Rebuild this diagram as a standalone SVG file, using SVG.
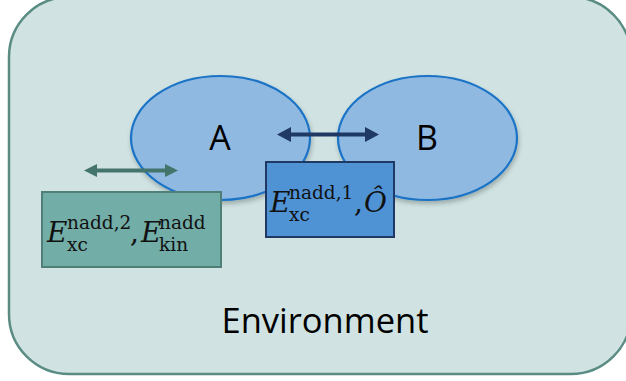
<svg xmlns="http://www.w3.org/2000/svg" width="626" height="381" viewBox="0 0 626 381">
  <style>
    .env { fill: #D0E3E2; stroke: #5A8C84; stroke-width: 2.5; }
    .region { fill: #8FB9E1; stroke: #1A73C6; stroke-width: 2.2; }
    .label { font-family: "Open Sans", "Liberation Sans", sans-serif; fill: #000; }
    .math { font-family: "DejaVu Serif", "Liberation Serif", serif; fill: #111; }
    .it { font-style: italic; }
    .idx { font-size: 18.5px; }
  </style>
  <defs>
    <filter id="soft" x="-20%" y="-20%" width="140%" height="150%">
      <feGaussianBlur in="SourceAlpha" stdDeviation="2.5"/>
      <feOffset dx="1" dy="3" result="b"/>
      <feComponentTransfer><feFuncA type="linear" slope="0.25"/></feComponentTransfer>
      <feMerge><feMergeNode/><feMergeNode in="SourceGraphic"/></feMerge>
    </filter>
  </defs>

  <rect width="626" height="381" fill="#FFFFFF"/>

  <!-- environment -->
  <g id="environment">
    <rect class="env" x="9" y="-3" width="622" height="377" rx="60" ry="60"/>
    <text class="label" x="325" y="333" font-size="34.5" text-anchor="middle">Environment</text>
  </g>

  <!-- subsystem A -->
  <g id="subsystem-a">
    <ellipse class="region" cx="220.5" cy="138" rx="89.5" ry="62" filter="url(#soft)"/>
    <text class="label" x="220" y="150" font-size="34" text-anchor="middle">A</text>
  </g>

  <!-- subsystem B -->
  <g id="subsystem-b">
    <ellipse class="region" cx="427.5" cy="138" rx="89.5" ry="62" filter="url(#soft)"/>
    <text class="label" x="427" y="150" font-size="34" text-anchor="middle">B</text>
  </g>

  <!-- coupling arrows -->
  <g id="connectors">
    <g fill="#1F3864" stroke="#1F3864">
      <line x1="288" y1="134.5" x2="368" y2="134.5" stroke-width="4"/>
      <path d="M277,134.5 L291,127 L291,142 Z" stroke="none"/>
      <path d="M379,134.5 L365,127 L365,142 Z" stroke="none"/>
    </g>
    <g fill="#44756C" stroke="#44756C">
      <line x1="95" y1="170.5" x2="167" y2="170.5" stroke-width="4"/>
      <path d="M84,170.5 L97,164 L97,177 Z" stroke="none"/>
      <path d="M178,170.5 L165,164 L165,177 Z" stroke="none"/>
    </g>
  </g>

  <!-- A–environment interaction terms -->
  <g id="term-environment">
    <rect x="42" y="192" width="179" height="75" fill="#72ADA7" stroke="#4F7F77" stroke-width="2"/>
    <text class="math it" x="47" y="242" font-size="28">E</text>
    <text class="math idx" x="67" y="229">nadd,2</text>
    <text class="math idx" x="67" y="251">xc</text>
    <text class="math" x="130" y="242" font-size="28">,</text>
    <text class="math it" x="141" y="242" font-size="28">E</text>
    <text class="math idx" x="159" y="229">nadd</text>
    <text class="math idx" x="159" y="251">kin</text>
  </g>

  <!-- A–B interaction terms -->
  <g id="term-ab">
    <rect x="266" y="162" width="128" height="75" fill="#4F93D5" stroke="#203864" stroke-width="2"/>
    <text class="math it" x="270" y="212" font-size="28">E</text>
    <text class="math idx" x="289" y="199">nadd,1</text>
    <text class="math idx" x="289" y="221">xc</text>
    <text class="math" x="354" y="212" font-size="28">,</text>
    <text class="math it" x="364" y="212" font-size="28">Ô</text>
  </g>
</svg>
